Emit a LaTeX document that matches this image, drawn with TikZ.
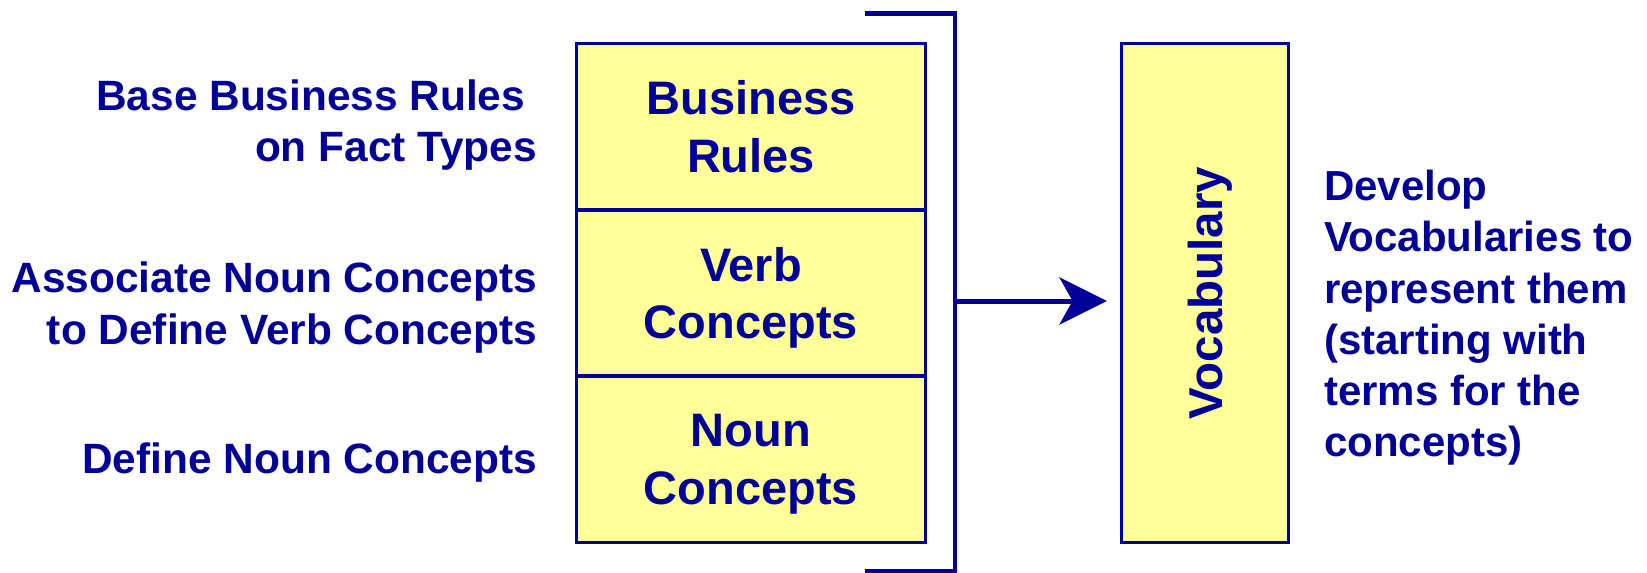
\documentclass[tikz,border=0pt]{standalone}
\usepackage{fontspec}
\setmainfont{Liberation Sans}
\usetikzlibrary{arrows.meta}
\definecolor{navyblue}{RGB}{0,0,153}
\definecolor{paleyellow}{RGB}{255,255,153}
\begin{document}
\begin{tikzpicture}[x=1pt,y=-1pt,
  layerbox/.style={draw=navyblue, fill=paleyellow, line width=3.5pt,
    minimum width=348.6pt, minimum height=166.3pt, inner sep=0pt, outer sep=0pt,
    text=navyblue, align=center, text depth=0pt,
    font=\bfseries\fontsize{47}{57.4}\selectfont},
  vocabbox/.style={draw=navyblue, fill=paleyellow, line width=3.5pt,
    minimum width=167pt, minimum height=498.9pt, inner sep=0pt, outer sep=0pt},
  voclabel/.style={text=navyblue, rotate=90, inner sep=0pt, outer sep=0pt, text depth=0pt,
    font=\bfseries\fontsize{47.5}{57}\selectfont},
  lefttext/.style={text=navyblue, align=right, anchor=east, inner sep=0pt, outer sep=0pt,
    text depth=0pt, font=\bfseries\fontsize{42.4}{51.6}\selectfont},
  righttext/.style={text=navyblue, align=left, anchor=west, inner sep=0pt, outer sep=0pt,
    text depth=0pt, font=\bfseries\fontsize{42}{51.3}\selectfont},
  bracketline/.style={draw=navyblue, line width=4.5pt},
  flowarrow/.style={draw=navyblue, line width=5pt,
    -{Stealth[length=47.5pt, width=47pt, inset=13pt]}}
]
\useasboundingbox (0,0) rectangle (1647,573);

% stacked layers
\node[layerbox] (rules) at (751,126.65) {Business\\Rules};
\node[layerbox] (verbs) at (751,292.95) {Verb\\Concepts};
\node[layerbox] (nouns) at (751,459.25) {Noun\\Concepts};

% left descriptions
\node[lefttext] (ltrules) at (537,120.6) {Base Business Rules\kern0.278em\\on Fact Types};
\node[lefttext] (ltverbs) at (537,302.9) {Associate Noun Concepts\\to Define Verb Concepts};
\node[lefttext] (ltnouns) at (537,458.1) {Define Noun Concepts};

% bracket
\coordinate (bktop) at (865,13.7);
\coordinate (bktopc) at (955,13.7);
\coordinate (bkbotc) at (955,571);
\coordinate (bkbot) at (865,571);
\coordinate (bkmid) at (955,301);
\draw[bracketline] (bktop) -- (bktopc) -- (bkbotc) -- (bkbot);

% vocabulary
\node[vocabbox] (vocab) at (1205,293) {};
\node[voclabel] (voctext) at (vocab.center) {Vocabulary};

% arrow
\draw[flowarrow, shorten >=14.5pt] (bkmid) -- (vocab.west |- bkmid);

% right description
\node[righttext] (rtvocab) at (1324,313.5) {Develop\\Vocabularies to\\represent them\\(starting with\\terms for the\\concepts)};
\end{tikzpicture}
\end{document}
